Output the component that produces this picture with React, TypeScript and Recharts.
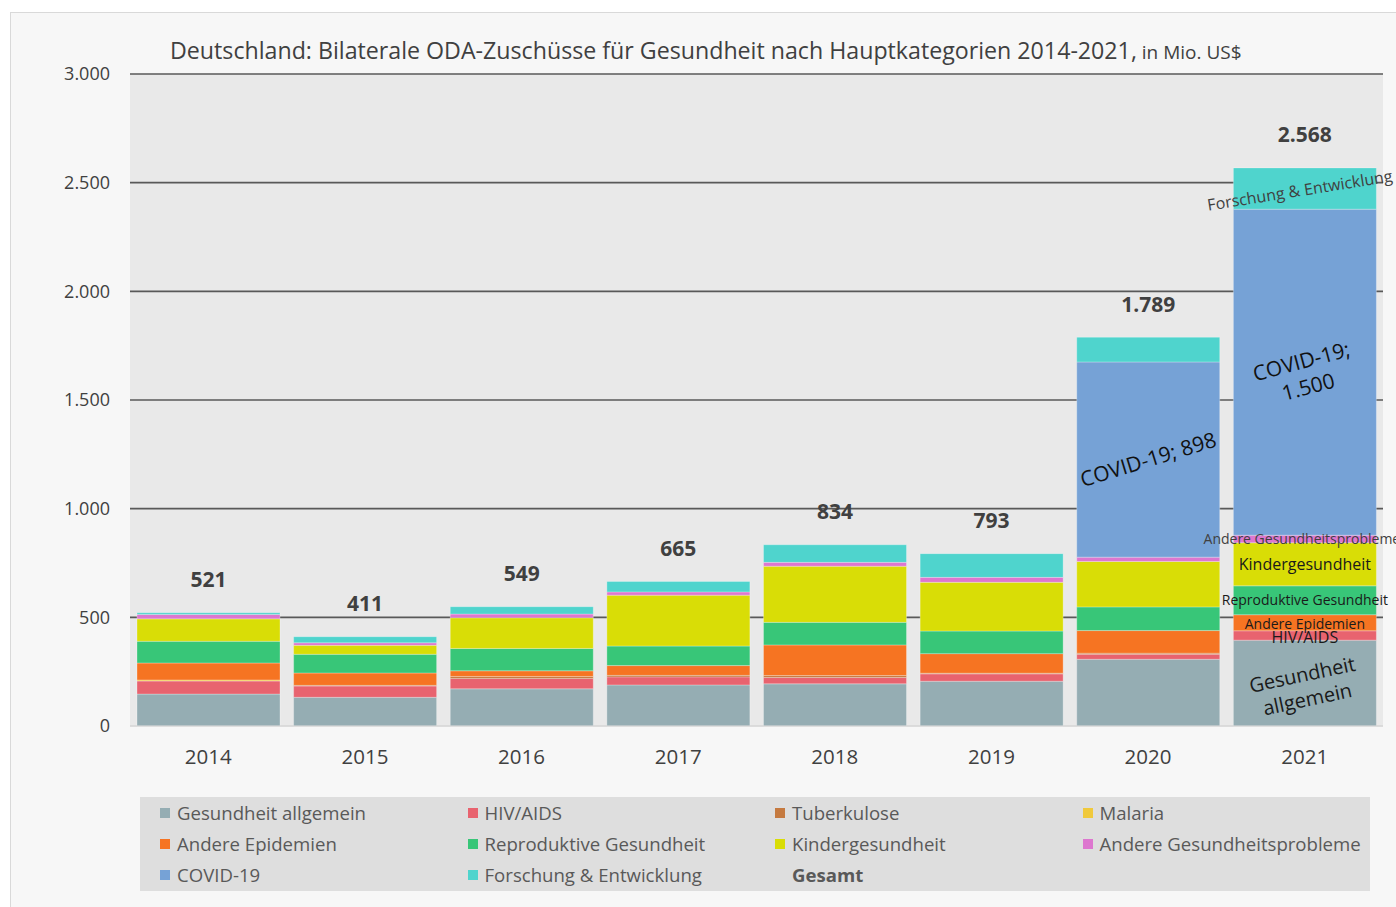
import { Bar, BarChart, CartesianGrid, LabelList, XAxis, YAxis } from "recharts";

const years = ["2014", "2015", "2016", "2017", "2018", "2019", "2020", "2021"];

// Mio. US$, je Hauptkategorie
const gesundheitAllgemein = [147, 132, 171, 189, 194, 206, 307, 395];
const hivAids = [60, 52, 48, 37, 29, 34, 23, 43];
const tuberkulose = [0, 3, 9, 7, 9, 3, 5, 0];
const malaria = [5, 0, 0, 0, 0, 0, 0, 0];
const andereEpidemien = [78, 57, 26, 45, 141, 90, 104, 74];
const reproduktiveGesundheit = [100, 86, 103, 90, 104, 104, 109, 133];
const kindergesundheit = [103, 41, 141, 234, 258, 224, 209, 198];
const andereProbleme = [20, 12, 17, 15, 18, 23, 20, 35];
const covid19 = [0, 0, 0, 0, 0, 0, 898, 1500];
const forschung = [8, 28, 34, 48, 81, 109, 114, 190];
const gesamt = [521, 411, 549, 665, 834, 793, 1789, 2568];

const yTicks = [0, 500, 1000, 1500, 2000, 2500, 3000];

const series = [
  { key: "allgemein", name: "Gesundheit allgemein", color: "#95adb3", values: gesundheitAllgemein },
  { key: "hiv", name: "HIV/AIDS", color: "#e8636f", values: hivAids },
  { key: "tb", name: "Tuberkulose", color: "#c57a40", values: tuberkulose },
  { key: "malaria", name: "Malaria", color: "#f0c93c", values: malaria },
  { key: "epi", name: "Andere Epidemien", color: "#f67422", values: andereEpidemien },
  { key: "repro", name: "Reproduktive Gesundheit", color: "#38c678", values: reproduktiveGesundheit },
  { key: "kinder", name: "Kindergesundheit", color: "#d9dd06", values: kindergesundheit },
  { key: "andere", name: "Andere Gesundheitsprobleme", color: "#dd77cf", values: andereProbleme },
  { key: "covid", name: "COVID-19", color: "#76a2d6", values: covid19 },
  { key: "fe", name: "Forschung & Entwicklung", color: "#4fd4cd", values: forschung },
];

const data = years.map((year, i) => {
  const row: Record<string, string | number> = { year, gesamt: gesamt[i] };
  series.forEach((s) => (row[s.key] = s.values[i]));
  return row;
});

const fmt = (v: number) => String(Math.round(v)).replace(/\B(?=(\d{3})+(?!\d))/g, ".");

type Note = { size: number; angle: number; color: string; dy?: number; dx?: number; lines: (v: number) => string[] };

// Beschriftungen in den Segmenten (nur wo im Original vorhanden)
const notes: Record<string, Record<string, Note>> = {
  allgemein: { "2021": { size: 20, angle: -12, color: "#1a1a1a", dy: 4, lines: () => ["Gesundheit", "allgemein"] } },
  hiv: { "2021": { size: 16, angle: 0, color: "#1a1a1a", dy: 2, lines: () => ["HIV/AIDS"] } },
  epi: { "2021": { size: 14, angle: 0, color: "#1a1a1a", dy: 1, lines: () => ["Andere Epidemien"] } },
  repro: { "2021": { size: 14, angle: 0, color: "#1a1a1a", lines: () => ["Reproduktive Gesundheit"] } },
  kinder: { "2021": { size: 16, angle: 0, color: "#1a1a1a", lines: () => ["Kindergesundheit"] } },
  andere: { "2021": { size: 14, angle: 0, color: "#404040", dx: -3, lines: () => ["Andere Gesundheitsprobleme"] } },
  covid: {
    "2020": { size: 21, angle: -17, color: "#111", lines: (v) => [`COVID-19; ${fmt(v)}`] },
    "2021": { size: 21, angle: -15, color: "#111", dy: 2, lines: (v) => ["COVID-19;", fmt(v)] },
  },
  fe: { "2021": { size: 16, angle: -9, color: "#404040", dx: -5, dy: 2, lines: () => ["Forschung & Entwicklung"] } },
};

const makeNote = (key: string, values: number[]) => (props: any) => {
  const vb = props.viewBox ?? props;
  const year = String(props.value);
  const note = notes[key]?.[year];
  if (!note) return null;
  const cx = vb.x + vb.width / 2 + (note.dx ?? 0);
  const cy = vb.y + vb.height / 2 + (note.dy ?? 0);
  const lines = note.lines(values[years.indexOf(year)]);
  const lh = note.size * 1.25;
  return (
    <text
      transform={`rotate(${note.angle}, ${cx}, ${cy})`}
      textAnchor="middle"
      fontSize={note.size}
      fill={note.color}
      fontFamily='"Open Sans", sans-serif'
    >
      {lines.map((l, i) => (
        <tspan key={i} x={cx} y={cy + (i - (lines.length - 1) / 2) * lh} dy="0.35em">
          {l}
        </tspan>
      ))}
    </text>
  );
};

const TotalLabel = (props: any) => {
  const vb = props.viewBox ?? props;
  return (
    <text
      x={vb.x + vb.width / 2}
      y={vb.y - 33}
      dy="0.35em"
      textAnchor="middle"
      fontSize={21}
      fontWeight={700}
      fill="#404040"
      fontFamily='"Open Sans", sans-serif'
    >
      {fmt(Number(props.value))}
    </text>
  );
};

const GridLine = (props: any) => {
  const bottom = props.y != null && props.height != null && props.y1 >= props.y + props.height - 1;
  return (
    <line
      x1={props.x1}
      x2={props.x2}
      y1={props.y1}
      y2={props.y2}
      stroke={bottom ? "#d4d4d4" : "#595959"}
      strokeWidth={bottom ? 1 : 1.6}
    />
  );
};

export default function App() {
  return (
    <div
      style={{
        position: "fixed",
        left: 0,
        top: 0,
        width: 1396,
        height: 907,
        background: "#fff",
        overflow: "hidden",
        fontFamily: '"Open Sans", sans-serif',
      }}
    >
      <div
        style={{
          position: "absolute",
          left: 10,
          top: 12,
          width: 1400,
          height: 900,
          background: "#f7f7f7",
          border: "1px solid #d9d9d9",
        }}
      />
      <div style={{ position: "absolute", left: 170, top: 35, color: "#404040", whiteSpace: "nowrap", lineHeight: "30px" }}>
        <span style={{ fontSize: 23.2 }}>
          Deutschland: Bilaterale ODA-Zuschüsse für Gesundheit nach Hauptkategorien 2014-2021,
        </span>
        <span style={{ fontSize: 19 }}> in Mio. US$</span>
      </div>
      <div style={{ position: "absolute", left: 0, top: 0 }}>
        <BarChart
          width={1396}
          height={800}
          data={data}
          margin={{ top: 74, right: 13, left: 0, bottom: 14 }}
          barCategoryGap={7}
        >
          <CartesianGrid horizontal={GridLine} vertical={false} fill="#e9e9e9" />
          <XAxis
            dataKey="year"
            height={60}
            tickSize={0}
            tickMargin={23}
            axisLine={{ stroke: "#d4d4d4" }}
            tick={{ fontSize: 20.5, fill: "#404040" }}
          />
          <YAxis
            width={130}
            domain={[0, 3000]}
            ticks={yTicks}
            tickFormatter={fmt}
            axisLine={false}
            tickSize={0}
            tickMargin={20}
            tick={{ fontSize: 18, fill: "#404040" }}
          />
          {series.map((s) => (
            <Bar
              key={s.key}
              dataKey={s.key}
              name={s.name}
              stackId="a"
              fill={s.color}
              stroke="#ffffff"
              strokeOpacity={0.35}
              strokeWidth={0.8}
              isAnimationActive={false}
            >
              <LabelList dataKey="year" content={makeNote(s.key, s.values)} />
              {s.key === "fe" && <LabelList dataKey="gesamt" content={TotalLabel} />}
            </Bar>
          ))}
        </BarChart>
      </div>
      <div
        style={{
          position: "absolute",
          left: 140,
          top: 797,
          width: 1230,
          height: 94,
          background: "#dedede",
          display: "grid",
          gridTemplateColumns: "repeat(4, 307.5px)",
          gridAutoRows: "31px",
          paddingLeft: 20,
          paddingTop: 0,
          boxSizing: "border-box",
        }}
      >
        {[...series.map((s) => ({ name: s.name, color: s.color as string | null })), { name: "Gesamt", color: null }].map(
          (item) => (
            <div key={item.name} style={{ display: "flex", alignItems: "center", fontSize: 18.6, color: "#595959", whiteSpace: "nowrap" }}>
              <span
                style={{
                  display: "inline-block",
                  width: 10,
                  height: 10,
                  marginRight: 7,
                  background: item.color ?? "transparent",
                }}
              />
              <span style={{ fontWeight: item.color ? 400 : 700 }}>{item.name}</span>
            </div>
          ),
        )}
      </div>
    </div>
  );
}
